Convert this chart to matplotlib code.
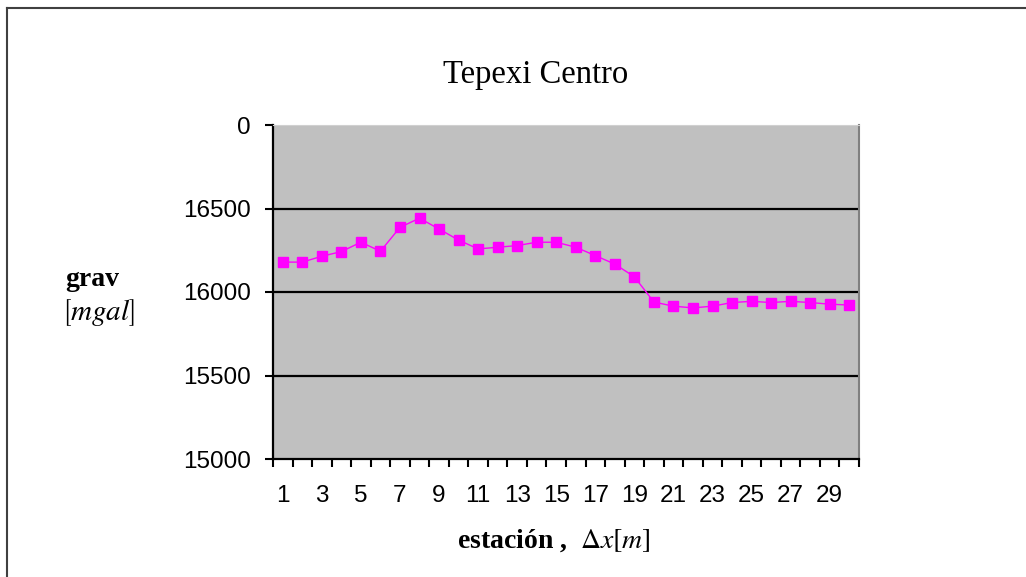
import matplotlib.pyplot as plt
from matplotlib.lines import Line2D

estaciones = list(range(1, 31))
grav = [16179, 16179, 16214, 16242, 16298, 16244, 16387, 16442, 16377, 16311,
        16258, 16268, 16278, 16298, 16298, 16268, 16218, 16167, 16091, 15940,
        15915, 15905, 15915, 15937, 15944, 15937, 15944, 15937, 15927, 15922]
yticks = [15000, 15500, 16000, 16500, 17000]
ytick_labels = ['15000', '15500', '16000', '16500', '0']
xtick_labels = [str(i) for i in range(1, 30, 2)]

fig = plt.figure(figsize=(10.26, 5.77), dpi=100)
ax = fig.add_axes([273/1026, 1 - 459/577, 586/1026, 334/577])
ax.set_facecolor('#c0c0c0')

ax.plot(estaciones, grav, color='#ff00ff', lw=1, marker='s', ms=6.5,
        mec='#ff00ff', mfc='#ff00ff', zorder=3)

ax.set_xlim(0.5, 30.5)
ax.set_ylim(15000, 17000)
ax.set_yticks(yticks)
ax.set_yticklabels(ytick_labels)
ax.set_xticks(list(range(1, 30, 2)))
ax.set_xticklabels(xtick_labels)
ax.set_xticks([i + 0.5 for i in range(0, 31)], minor=True)
ax.tick_params(axis='x', which='major', length=0, pad=19)
ax.tick_params(axis='x', which='minor', length=6, width=1.5, direction='out')
ax.tick_params(axis='y', length=6, width=1.5, direction='out', pad=10)
for lab in ax.get_xticklabels() + ax.get_yticklabels():
    lab.set_fontfamily('Liberation Sans')
    lab.set_fontsize(17.5)

for v in [15500, 16000, 16500]:
    ax.axhline(v, color='black', lw=1.6, zorder=1)

ax.spines['left'].set_linewidth(1.6)
ax.spines['bottom'].set_linewidth(1.6)
ax.spines['top'].set_color('#d0d0d0')
ax.spines['right'].set_color('#808080')
ax.spines['right'].set_linewidth(1.5)

fig.text(536/1026, 1 - 75/577, 'Tepexi Centro', ha='center', va='center',
         family='Liberation Serif', fontsize=23.5)
fig.text(92/1026, 1 - 280/577, 'grav', ha='center', va='center',
         family='Liberation Serif', fontweight='bold', fontsize=20)
fig.text(99/1026, 1 - 312/577, r'$\left[mgal\right]$', ha='center', va='center',
         fontsize=21, math_fontfamily='stix')
fig.text(554/1026, 1 - 541/577, r'estación ,  $\Delta x\left[m\right]$',
         ha='center', va='center', family='Liberation Serif', fontweight='bold',
         fontsize=20, math_fontfamily='stix')

# outer frame of the chart area
fig.add_artist(Line2D([7/1026, 7/1026], [0, 1 - 8/577], color='#404040', lw=1.5,
                      transform=fig.transFigure))
fig.add_artist(Line2D([7/1026, 1], [1 - 8/577, 1 - 8/577], color='#404040', lw=1.5,
                      transform=fig.transFigure))

fig.savefig('out.png', dpi=100)
